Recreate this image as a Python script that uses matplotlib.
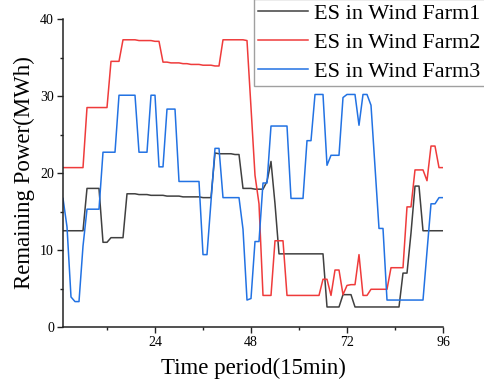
import matplotlib
matplotlib.use("Agg")
import matplotlib.pyplot as plt
from matplotlib.ticker import MultipleLocator

periods = list(range(1, 97))

farm1 = [12.5, 12.5, 12.5, 12.5, 12.5, 12.5, 18.0, 18.0, 18.0, 18.0,
         11.0, 11.0, 11.6, 11.6, 11.6, 11.6, 17.3, 17.3, 17.3, 17.2,
         17.2, 17.2, 17.1, 17.1, 17.1, 17.1, 17.0, 17.0, 17.0, 17.0,
         16.9, 16.9, 16.9, 16.9, 16.9, 16.8, 16.8, 16.8, 22.6, 22.5,
         22.5, 22.5, 22.5, 22.4, 22.4, 18.0, 18.0, 18.0, 17.9, 17.9,
         17.9, 18.9, 21.5, 16.0, 9.5, 9.5, 9.5, 9.5, 9.5, 9.5,
         9.5, 9.5, 9.5, 9.5, 9.5, 9.5, 2.6, 2.6, 2.6, 2.6,
         4.2, 4.2, 4.2, 2.6, 2.6, 2.6, 2.6, 2.6, 2.6, 2.6,
         2.6, 2.6, 2.6, 2.6, 2.6, 7.0, 7.0, 12.2, 18.3, 18.3,
         12.5, 12.5, 12.5, 12.5, 12.5, 12.5]

farm2 = [20.7, 20.7, 20.7, 20.7, 20.7, 20.7, 28.5, 28.5, 28.5, 28.5,
         28.5, 28.5, 34.5, 34.5, 34.5, 37.3, 37.3, 37.3, 37.3, 37.2,
         37.2, 37.2, 37.2, 37.1, 37.1, 34.4, 34.4, 34.3, 34.3, 34.3,
         34.2, 34.2, 34.1, 34.1, 34.1, 34.0, 34.0, 34.0, 33.9, 33.9,
         37.3, 37.3, 37.3, 37.3, 37.3, 37.3, 37.2, 28.5, 19.7, 16.0,
         4.1, 4.1, 4.1, 11.2, 11.2, 11.2, 4.1, 4.1, 4.1, 4.1,
         4.1, 4.1, 4.1, 4.1, 4.1, 6.2, 6.2, 4.1, 7.4, 7.4,
         4.2, 5.4, 5.5, 5.5, 9.4, 4.1, 4.1, 4.9, 4.9, 4.9,
         4.9, 4.9, 7.7, 7.7, 7.7, 7.7, 15.6, 15.6, 20.4, 20.4,
         20.4, 19.0, 23.5, 23.5, 20.7, 20.7]

farm3 = [16.7, 13.0, 3.9, 3.3, 3.3, 10.5, 15.3, 15.3, 15.3, 15.3,
         22.7, 22.7, 22.7, 22.7, 30.1, 30.1, 30.1, 30.1, 30.1, 22.7,
         22.7, 22.7, 30.1, 30.1, 20.8, 20.8, 28.3, 28.3, 28.3, 18.9,
         18.9, 18.9, 18.9, 18.9, 18.9, 9.4, 9.4, 16.3, 23.2, 23.2,
         16.8, 16.8, 16.8, 16.8, 16.8, 12.7, 3.5, 3.7, 11.1, 11.1,
         18.7, 18.7, 26.1, 26.1, 26.1, 26.1, 26.1, 16.7, 16.7, 16.7,
         16.7, 24.2, 24.2, 30.2, 30.2, 30.2, 21.0, 22.3, 22.3, 22.3,
         29.8, 30.2, 30.2, 30.2, 26.2, 30.2, 30.2, 28.8, 20.8, 12.8,
         12.8, 3.5, 3.5, 3.5, 3.5, 3.5, 3.5, 3.5, 3.5, 3.5,
         3.5, 9.8, 16.0, 16.0, 16.8, 16.8]

series_labels = ["ES in Wind Farm1", "ES in Wind Farm2", "ES in Wind Farm3"]
series_colors = ["#404040", "#ef3b3b", "#2272e3"]
x_ticks = [24, 48, 72, 96]
y_ticks = [0, 10, 20, 30, 40]

plt.rcParams['font.family'] = ['Liberation Serif', 'DejaVu Serif']
plt.rcParams['mathtext.fontset'] = 'stix'

W, H = 484, 383
fig = plt.figure(figsize=(W / 100, H / 100), dpi=100)
ax = fig.add_axes([63 / W, 1 - 327 / H, (443 - 63) / W, (327 - 19) / H])

lines = []
for data, lab, col in zip([farm1, farm2, farm3], series_labels, series_colors):
    ln, = ax.plot(periods, data, color=col, lw=1.1, label=lab)
    lines.append(ln)

ax.set_xlim(1, 96)
ax.set_ylim(0, 40)
ax.set_xticks(x_ticks)
ax.set_yticks(y_ticks)
ax.xaxis.set_minor_locator(MultipleLocator(12))
ax.yaxis.set_minor_locator(MultipleLocator(5))
ax.tick_params(which='major', direction='out', length=4.5, width=1.0,
               labelsize=10, pad=2, colors='#222222', labelcolor='black')
ax.tick_params(which='minor', direction='out', length=2.5, width=1.0,
               colors='#222222')
for s in ['top', 'right']:
    ax.spines[s].set_visible(False)
for s in ['left', 'bottom']:
    ax.spines[s].set_linewidth(1.1)
    ax.spines[s].set_color('#222222')

ax.set_xlabel("Time period(15min)", fontsize=16.5, labelpad=6)
ax.set_ylabel("Remaining Power(MWh)", fontsize=16.5, labelpad=4)

leg = fig.legend(handles=lines, loc='upper left',
                 bbox_to_anchor=(254 / W, 1 + 1 / H), borderaxespad=0,
                 fontsize=16, frameon=True, fancybox=False,
                 handlelength=2.25, handletextpad=0.27, labelspacing=0.38,
                 borderpad=0.2)
leg.get_frame().set_edgecolor('#888888')
leg.get_frame().set_linewidth(1.0)

fig.savefig("out.png", dpi=100)
